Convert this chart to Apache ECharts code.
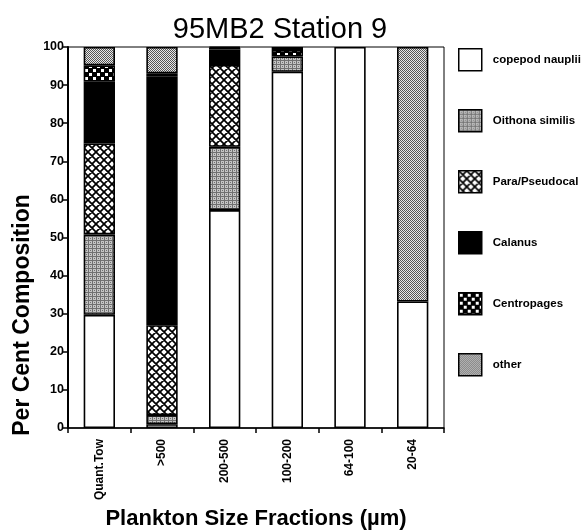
<!DOCTYPE html>
<html>
<head>
<meta charset="utf-8">
<script src="https://cdn.jsdelivr.net/npm/echarts@6/dist/echarts.min.js"></script>
<style>
html,body{margin:0;padding:0;background:#fff;}
#chart{width:586px;height:531px;}
</style>
</head>
<body>
<div id="chart"></div>
<script>
// ---- data ----
var categories = ['Quant.Tow', '>500', '200-500', '100-200', '64-100', '20-64'];
var seriesNames = ['copepod nauplii', 'Oithona similis', 'Para/Pseudocal', 'Calanus', 'Centropages', 'other'];
var nauplii     = [29.7, 1.0, 57.2, 93.5, 100, 33.2];
var oithona     = [21.1, 2.4, 16.6, 4.0, 0, 0];
var paraPseudo  = [23.9, 23.6, 21.5, 0, 0, 0];
var calanus     = [16.2, 65.2, 4.0, 0, 0, 0];
var centropages = [4.3, 0.9, 0.5, 1.7, 0, 0];
var other       = [4.8, 6.9, 0.2, 0.8, 0, 66.8];
var yTicks = [0, 10, 20, 30, 40, 50, 60, 70, 80, 90, 100];

// ---- patterns ----
function tile(w, h, draw) {
  var c = document.createElement('canvas');
  c.width = w; c.height = h;
  var ctx = c.getContext('2d');
  draw(ctx, w, h);
  return { image: c, repeat: 'repeat' };
}
var fills = [
  '#ffffff',
  tile(4, 4, function (ctx) {
    ctx.fillStyle = '#c4c4c4'; ctx.fillRect(0, 0, 4, 4);
    ctx.fillStyle = '#707070';
    ctx.fillRect(0, 0, 4, 1); ctx.fillRect(0, 0, 1, 4);
    ctx.fillRect(2, 2, 1, 1);
  }),
  tile(8, 8, function (ctx) {
    ctx.fillStyle = '#fff'; ctx.fillRect(0, 0, 8, 8);
    ctx.strokeStyle = '#000'; ctx.lineWidth = 1.7;
    ctx.beginPath();
    ctx.moveTo(-2, -2); ctx.lineTo(10, 10);
    ctx.moveTo(10, -2); ctx.lineTo(-2, 10);
    ctx.moveTo(6, -2); ctx.lineTo(10, 2);
    ctx.moveTo(-2, 6); ctx.lineTo(2, 10);
    ctx.moveTo(2, -2); ctx.lineTo(-2, 2);
    ctx.moveTo(10, 6); ctx.lineTo(6, 10);
    ctx.stroke();
  }),
  '#000000',
  tile(8, 8, function (ctx) {
    ctx.fillStyle = '#000'; ctx.fillRect(0, 0, 8, 8);
    ctx.fillStyle = '#fff';
    ctx.fillRect(1, 1, 3, 3); ctx.fillRect(5, 5, 3, 3);
  }),
  tile(2, 2, function (ctx) {
    ctx.fillStyle = '#e8e8e8'; ctx.fillRect(0, 0, 2, 2);
    ctx.fillStyle = '#555';
    ctx.fillRect(0, 0, 1, 1); ctx.fillRect(1, 1, 1, 1);
  })
];

var dataSets = [nauplii, oithona, paraPseudo, calanus, centropages, other];
var series = dataSets.map(function (arr, i) {
  return {
    name: seriesNames[i],
    type: 'bar',
    stack: 'total',
    barWidth: '50%',
    data: arr.map(function (v) { return v === 0 ? '-' : v; }),
    itemStyle: { color: fills[i], borderColor: '#000', borderWidth: 1.6 },
    emphasis: { disabled: true }
  };
});

var chart = echarts.init(document.getElementById('chart'), null, { renderer: 'canvas' });
chart.setOption({
  animation: false,
  backgroundColor: '#fff',
  title: {
    text: '95MB2 Station 9',
    left: 275, textAlign: 'center', top: 10,
    textStyle: { fontFamily: 'Liberation Sans', fontSize: 29, fontWeight: 'normal', color: '#000' }
  },
  legend: {
    orient: 'vertical',
    left: 458, top: 48,
    padding: 0,
    itemWidth: 23, itemHeight: 22, itemGap: 37.5,
    icon: 'rect',
    itemStyle: { borderColor: '#000', borderWidth: 1.5 },
    textStyle: { fontFamily: 'Liberation Sans', fontSize: 11.5, fontWeight: 'bold', color: '#000', padding: [0, 0, 0, 6] },
    data: seriesNames,
    selectedMode: false
  },
  grid: {
    left: 68, right: 142, top: 47, bottom: 103,
    outerBoundsMode: 'none',
    containLabel: false,
    show: true, borderColor: '#000', borderWidth: 1, backgroundColor: 'transparent'
  },
  xAxis: {
    type: 'category',
    data: categories,
    name: 'Plankton Size Fractions (µm)',
    nameLocation: 'middle',
    nameGap: 80,
    nameTextStyle: { fontFamily: 'Liberation Sans', fontSize: 22, fontWeight: 'bold', color: '#000' },
    axisLine: { lineStyle: { color: '#000', width: 1.5 } },
    axisTick: { show: true, length: 5, lineStyle: { color: '#000', width: 1.5 } },
    axisLabel: { rotate: 90, margin: 11, fontFamily: 'Liberation Sans', fontSize: 12, fontWeight: 'bold', color: '#000' }
  },
  yAxis: {
    type: 'value',
    min: 0, max: 100, interval: 10,
    splitLine: { show: false },
    axisLine: { show: true, lineStyle: { color: '#000', width: 2 } },
    axisTick: { show: true, length: 5, lineStyle: { color: '#000', width: 1.5 } },
    axisLabel: {
      margin: 4, fontFamily: 'Liberation Sans', fontSize: 12.5, fontWeight: 'bold', color: '#000',
      formatter: function (v) { return yTicks.indexOf(v) >= 0 ? String(v) : ''; }
    }
  },
  graphic: [{
    type: 'text',
    x: 23, y: 315,
    rotation: Math.PI / 2,
    style: {
      text: 'Per Cent Composition',
      font: 'bold 23px "Liberation Sans"',
      fill: '#000',
      textAlign: 'center',
      textVerticalAlign: 'middle'
    }
  }],
  series: series
});
</script>
</body>
</html>
